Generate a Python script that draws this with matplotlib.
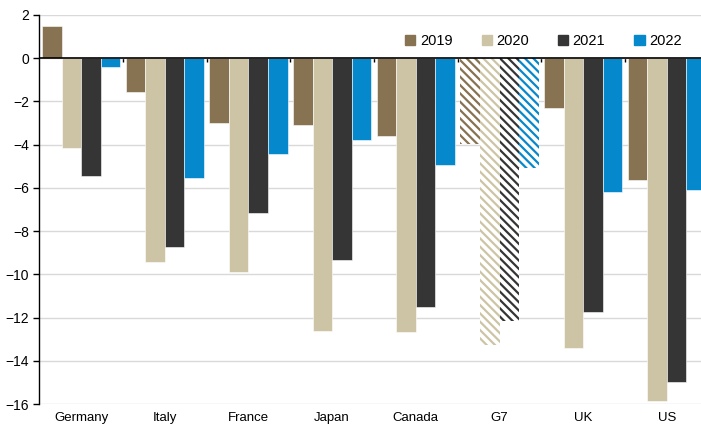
import numpy as np
import matplotlib.pyplot as plt
from matplotlib.patches import Patch

plt.rcParams['font.family'] = ['Liberation Sans', 'DejaVu Sans']
plt.rcParams['hatch.linewidth'] = 1.6

countries = ['Germany', 'Italy', 'France', 'Japan', 'Canada', 'G7', 'UK', 'US']
years = ['2019', '2020', '2021', '2022']
colors = ['#877251', '#cdc4a5', '#353535', '#0688cc']

v2019 = [1.5, -1.55, -3.0, -3.1, -3.6, -3.95, -2.3, -5.65]
v2020 = [-4.15, -9.45, -9.9, -12.6, -12.65, -13.25, -13.4, -15.85]
v2021 = [-5.45, -8.75, -7.15, -9.35, -11.5, -12.15, -11.75, -15.0]
v2022 = [-0.4, -5.55, -4.45, -3.8, -4.95, -5.1, -6.2, -6.1]
series = [v2019, v2020, v2021, v2022]

fig = plt.figure(figsize=(7.01, 4.26), dpi=100)
ax = fig.add_axes([39.3 / 701, 22 / 426, 669.4 / 701, 389 / 426])

x = np.arange(len(countries))
w = 0.234
for i, vals in enumerate(series):
    pos = x + (i - 1.5) * w
    bars = ax.bar(pos, vals, w, color=colors[i], edgecolor='white', linewidth=0.4, zorder=3)
    # G7 aggregate drawn with diagonal stripes
    g = countries.index('G7')
    bars[g].set_facecolor('white')
    bars[g].set_edgecolor(colors[i])
    bars[g].set_hatch('\\\\\\\\')
    bars[g].set_linewidth(0)

ax.set_ylim(-16, 2)
ax.set_xlim(-0.5, len(countries) - 0.5)
ax.set_yticks(np.arange(-16, 3, 2))
ax.yaxis.grid(True, color='#d9d9d9', linewidth=1, zorder=0)
ax.axhline(0, color='black', linewidth=1.2, zorder=4)

ax.set_xticks(x)
ax.set_xticklabels(countries, fontsize=9.5)
ax.tick_params(axis='x', length=0, pad=6)
ax.tick_params(axis='y', labelsize=10, length=4, width=1, direction='out')
for s in ['top', 'right', 'bottom']:
    ax.spines[s].set_visible(False)
ax.spines['left'].set_linewidth(1)

# small group separators on the zero line
sec = ax.secondary_xaxis(16 / 18)
sec.set_xticks(x[:-1] + 0.5)
sec.set_xticklabels([])
sec.tick_params(direction='in', length=3, width=1, color='black')
sec.spines['bottom'].set_visible(False)
sec.spines['top'].set_visible(False)

handles = [Patch(color=c, label=y) for c, y in zip(colors, years)]
ax.legend(handles=handles, loc='upper left', bbox_to_anchor=(0.527, 0.985), ncol=4,
          frameon=False, fontsize=10.5, handlelength=0.7, handleheight=0.7,
          handletextpad=0.3, columnspacing=2.0)

fig.savefig('out.png', dpi=100)
